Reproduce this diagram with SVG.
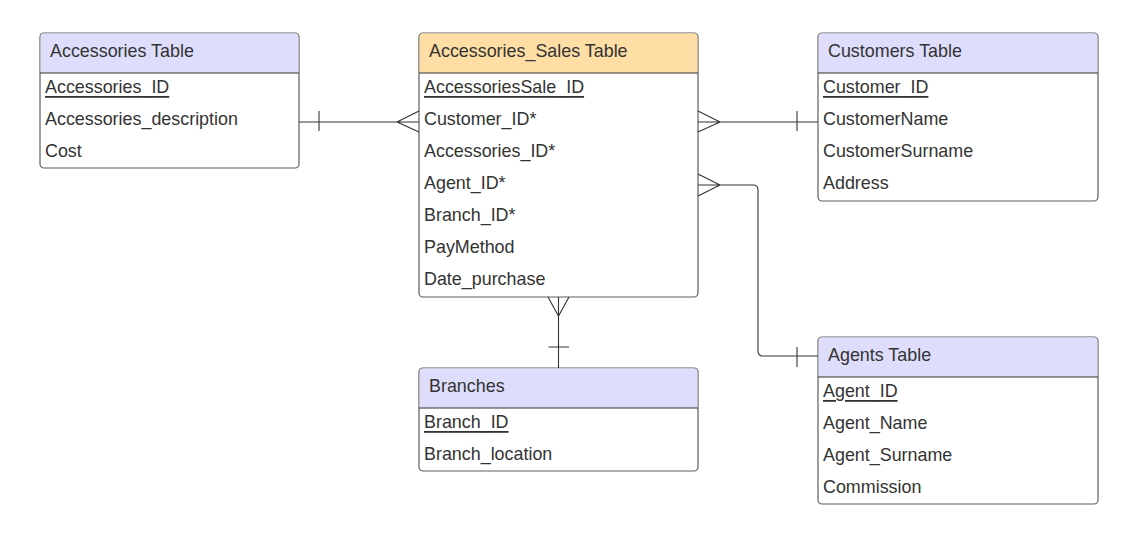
<svg xmlns="http://www.w3.org/2000/svg" width="1139" height="537" viewBox="0 0 1139 537">
<style>
.box{fill:#fff;stroke:#5e5e5e;stroke-width:1.2}
.hdr{stroke:none}
.blue{fill:#dedefc}
.orange{fill:#ffdea6}
.sep{stroke:#333;stroke-width:1.2}
text{font-family:"Liberation Sans",Arial,sans-serif;font-size:17.9px;fill:#333;dominant-baseline:central}
.pk{text-decoration:underline}
.conn{fill:none;stroke:#333;stroke-width:1.1}
</style>
<rect width="1139" height="537" fill="#fff"/>
<g id="accessories">
<rect class="box" x="40" y="33" width="259" height="135" rx="4"/>
<path class="hdr blue" d="M44,33.6 H295 A3.4,3.4 0 0 1 298.4,37 V73 H40.6 V37 A3.4,3.4 0 0 1 44,33.6 Z"/>
<line class="sep" x1="40" y1="73" x2="299" y2="73"/>
<text x="50" y="51">Accessories Table</text>
<text class="pk" x="45" y="87">Accessories_ID</text>
<text x="45" y="119">Accessories_description</text>
<text x="45" y="151">Cost</text>
</g>
<g id="sales">
<rect class="box" x="419" y="33" width="279" height="264" rx="4"/>
<path class="hdr orange" d="M423,33.6 H694 A3.4,3.4 0 0 1 697.4,37 V73 H419.6 V37 A3.4,3.4 0 0 1 423,33.6 Z"/>
<line class="sep" x1="419" y1="73" x2="698" y2="73"/>
<text x="429" y="51">Accessories_Sales Table</text>
<text class="pk" x="424" y="87">AccessoriesSale_ID</text>
<text x="424" y="119">Customer_ID*</text>
<text x="424" y="151">Accessories_ID*</text>
<text x="424" y="183">Agent_ID*</text>
<text x="424" y="215">Branch_ID*</text>
<text x="424" y="247">PayMethod</text>
<text x="424" y="279">Date_purchase</text>
</g>
<g id="customers">
<rect class="box" x="818" y="33" width="280" height="168" rx="4"/>
<path class="hdr blue" d="M822,33.6 H1094 A3.4,3.4 0 0 1 1097.4,37 V73 H818.6 V37 A3.4,3.4 0 0 1 822,33.6 Z"/>
<line class="sep" x1="818" y1="73" x2="1098" y2="73"/>
<text x="828" y="51">Customers Table</text>
<text class="pk" x="823" y="87">Customer_ID</text>
<text x="823" y="119">CustomerName</text>
<text x="823" y="151">CustomerSurname</text>
<text x="823" y="183">Address</text>
</g>
<g id="branches">
<rect class="box" x="419" y="368" width="279" height="103" rx="4"/>
<path class="hdr blue" d="M423,368.6 H694 A3.4,3.4 0 0 1 697.4,372 V408 H419.6 V372 A3.4,3.4 0 0 1 423,368.6 Z"/>
<line class="sep" x1="419" y1="408" x2="698" y2="408"/>
<text x="429" y="386">Branches</text>
<text class="pk" x="424" y="422">Branch_ID</text>
<text x="424" y="454">Branch_location</text>
</g>
<g id="agents">
<rect class="box" x="818" y="337" width="280" height="167" rx="4"/>
<path class="hdr blue" d="M822,337.6 H1094 A3.4,3.4 0 0 1 1097.4,341 V377 H818.6 V341 A3.4,3.4 0 0 1 822,337.6 Z"/>
<line class="sep" x1="818" y1="377" x2="1098" y2="377"/>
<text x="828" y="355">Agents Table</text>
<text class="pk" x="823" y="391">Agent_ID</text>
<text x="823" y="423">Agent_Name</text>
<text x="823" y="455">Agent_Surname</text>
<text x="823" y="487">Commission</text>
</g>
<g id="connectors">
<path class="conn" d="M299,122 H419 M319,111 V131 M419,111 L397,122 L419,132"/>
<path class="conn" d="M698,122 H818 M797,111 V131 M698,111 L720,122 L698,132"/>
<path class="conn" d="M698,185 H753 Q758,185 758,190 V351 Q758,356 763,356 H818 M797,347 V367 M698,174 L720,185 L698,196"/>
<path class="conn" d="M558.5,297 V368 M548.5,347 H569 M548,297 L558.5,316 L569,297"/>
</g>
</svg>
